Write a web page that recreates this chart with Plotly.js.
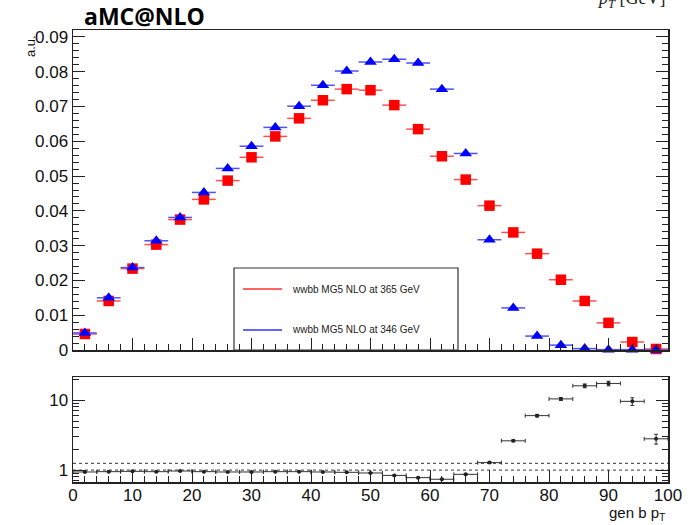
<!DOCTYPE html>
<html>
<head>
<meta charset="utf-8">
<script src="https://cdn.plot.ly/plotly-3.0.1.min.js"></script>
<style>
html,body{margin:0;padding:0;background:#fff;}
#chart{width:697px;height:525px;}
</style>
</head>
<body>
<div id="chart"></div>
<script>
// bin centres of gen b pT (GeV)
const binCenters = [2,6,10,14,18,22,26,30,34,38,42,46,50,54,58,62,66,70,74,78,82,86,90,94,98];
const binHalfWidth = 2;

// normalised distributions (a.u.)
const nlo365 = [0.0046,0.0141,0.0234,0.0303,0.0375,0.0433,0.0487,0.0554,0.0614,0.0666,0.0718,0.0750,0.0747,0.0704,0.0635,0.0557,0.0490,0.0415,0.0338,0.0277,0.0202,0.0141,0.0078,0.0023,0.0003];
const nlo346 = [0.0049,0.0150,0.0237,0.0314,0.0381,0.0453,0.0522,0.0586,0.0640,0.0701,0.0761,0.0802,0.0828,0.0836,0.0825,0.0750,0.0565,0.0317,0.0121,0.0040,0.0014,0.0004,0.0001,0.0001,0.0000];

// ratio panel (365 / 346)
const ratio    = [0.94,0.95,0.96,0.95,0.97,0.95,0.94,0.94,0.95,0.95,0.94,0.93,0.91,0.84,0.78,0.74,0.87,1.28,2.62,6.0,10.4,16.0,17.3,9.6,2.8];
const ratioErr = [0.01,0.01,0.01,0.01,0.01,0.01,0.01,0.01,0.01,0.01,0.01,0.01,0.01,0.01,0.01,0.01,0.02,0.03,0.08,0.25,0.5,1.0,1.3,1.2,0.45];
const refLines = [1, 1.25];

const seriesNames = ['wwbb MG5 NLO at 365 GeV', 'wwbb MG5 NLO at 346 GeV'];
const xTickVals = [0,10,20,30,40,50,60,70,80,90,100];

const AX = '#222';
const F = 'Liberation Sans, Arial, sans-serif';

const traces = [];
traces.push({
  x: binCenters, y: nlo365, type: 'scatter', mode: 'markers', name: seriesNames[0],
  xaxis: 'x', yaxis: 'y', showlegend: false, cliponaxis: false,
  marker: {symbol: 'square', size: 10.5, color: '#ff0000'},
  error_x: {type: 'constant', value: binHalfWidth, width: 0, thickness: 1.5, color: '#ff5050'}
});
traces.push({
  x: binCenters, y: nlo346, type: 'scatter', mode: 'markers', name: seriesNames[1],
  xaxis: 'x', yaxis: 'y', showlegend: false, cliponaxis: false,
  marker: {symbol: 'triangle-up', size: 11, color: '#0000ff'},
  error_x: {type: 'constant', value: binHalfWidth, width: 0, thickness: 1.5, color: '#5050ff'}
});
refLines.forEach(v => {
  traces.push({
    x: [0, 100], y: [v, v], type: 'scatter', mode: 'lines', xaxis: 'x2', yaxis: 'y2',
    showlegend: false, hoverinfo: 'skip',
    line: {color: '#333', width: 1, dash: 'dot'}
  });
});
traces.push({
  x: binCenters, y: ratio, type: 'scatter', mode: 'markers', xaxis: 'x2', yaxis: 'y2',
  showlegend: false,
  marker: {symbol: 'circle', size: 4, color: '#222'},
  error_x: {type: 'constant', value: binHalfWidth, width: 2, thickness: 1, color: '#333'},
  error_y: {type: 'data', array: ratioErr, width: 2, thickness: 1, color: '#333'}
});

const L = 73, T = 30, R = 29, B = 43;
const W = 697, H = 525;
const ph = H - T - B; const pw = W - L - R;
const py = p => (H - B - p) / ph;      // pixel y -> paper
const px = p => (p - L) / pw;          // pixel x -> paper

const commonX = {
  range: [0, 100], showgrid: false, zeroline: false,
  showline: true, mirror: true, linecolor: AX, linewidth: 1.5,
  ticks: 'inside', ticklen: 12, tickwidth: 1, tickcolor: AX,
  tickmode: 'array', tickvals: xTickVals,
  minor: {ticks: 'inside', ticklen: 6, tickwidth: 1, tickcolor: AX, dtick: 2, tick0: 0},
  tickfont: {family: F, size: 17, color: '#111'}
};

const layout = {
  width: W, height: H,
  margin: {l: L, r: R, t: T, b: B},
  paper_bgcolor: '#fff', plot_bgcolor: 'rgba(0,0,0,0)',
  showlegend: false,
  title: {text: '<b>aMC@NLO</b>', xref: 'container', yref: 'container', x: 84/W, xanchor: 'left',
          y: 1 - 17/H, yanchor: 'middle', font: {family: 'Open Sans, Noto Sans, sans-serif', size: 23, color: '#000'}},
  xaxis: Object.assign({}, commonX, {anchor: 'y', domain: [0, 1], showticklabels: false}),
  yaxis: {
    anchor: 'x', domain: [py(350), 1], range: [0, 0.092],
    showgrid: false, zeroline: false, showline: true, mirror: 'ticks', linecolor: AX, linewidth: 1.5,
    ticks: 'inside', ticklen: 12, tickwidth: 1, tickcolor: AX, dtick: 0.01, tick0: 0,
    minor: {ticks: 'inside', ticklen: 6, tickwidth: 1, tickcolor: AX, dtick: 0.002, tick0: 0},
    tickfont: {family: F, size: 17, color: '#111'}
  },
  xaxis2: Object.assign({}, commonX, {anchor: 'y2', domain: [0, 1], showticklabels: true, ticklabelstandoff: -3}),
  yaxis2: {
    anchor: 'x2', domain: [0, py(377)], type: 'log', range: [-0.17, 1.33],
    showgrid: false, zeroline: false, showline: true, mirror: 'ticks', linecolor: AX, linewidth: 1.5,
    ticks: 'inside', ticklen: 12, tickwidth: 1, tickcolor: AX,
    tickmode: 'array', tickvals: [1, 10], ticktext: ['1', '10'],
    minor: {ticks: 'inside', ticklen: 6, tickwidth: 1, tickcolor: AX, tickmode: 'array',
            tickvals: [0.7,0.8,0.9,2,3,4,5,6,7,8,9,20]},
    tickfont: {family: F, size: 17, color: '#111'}
  },
  shapes: [
    {type: 'rect', xref: 'paper', yref: 'paper', x0: px(234), x1: px(458), y0: py(350), y1: py(268),
     line: {color: '#333', width: 1.2}, fillcolor: 'rgba(0,0,0,0)'},
    {type: 'line', xref: 'paper', yref: 'paper', x0: px(243), x1: px(282), y0: py(289), y1: py(289),
     line: {color: '#ff3030', width: 1.5}},
    {type: 'line', xref: 'paper', yref: 'paper', x0: px(243), x1: px(282), y0: py(330), y1: py(330),
     line: {color: '#3030ff', width: 1.5}}
  ],
  annotations: [
    {xref: 'paper', yref: 'paper', x: px(290), y: py(289), xanchor: 'left', yanchor: 'middle', showarrow: false,
     text: seriesNames[0], font: {family: F, size: 10, color: '#222'}},
    {xref: 'paper', yref: 'paper', x: px(290), y: py(330), xanchor: 'left', yanchor: 'middle', showarrow: false,
     text: seriesNames[1], font: {family: F, size: 10, color: '#222'}},
    {xref: 'paper', yref: 'paper', x: px(31), y: py(33), xanchor: 'center', yanchor: 'top', showarrow: false,
     textangle: -90, text: 'a.u.', font: {family: F, size: 13, color: '#111'}},
    {xref: 'paper', yref: 'paper', x: 1, y: py(513), xanchor: 'right', yanchor: 'middle', showarrow: false,
     text: 'gen b p<sub>T</sub>', font: {family: F, size: 15, color: '#111'}},
    {xref: 'paper', yref: 'paper', x: 1, y: py(13), xanchor: 'right', yanchor: 'bottom', showarrow: false,
     text: '<i>p</i><sub><i>T</i></sub> [GeV]', font: {family: 'Liberation Serif, Times New Roman, serif', size: 18, color: '#222'}}
  ]
};

Plotly.newPlot('chart', traces, layout, {staticPlot: true, displayModeBar: false});
</script>
</body>
</html>
